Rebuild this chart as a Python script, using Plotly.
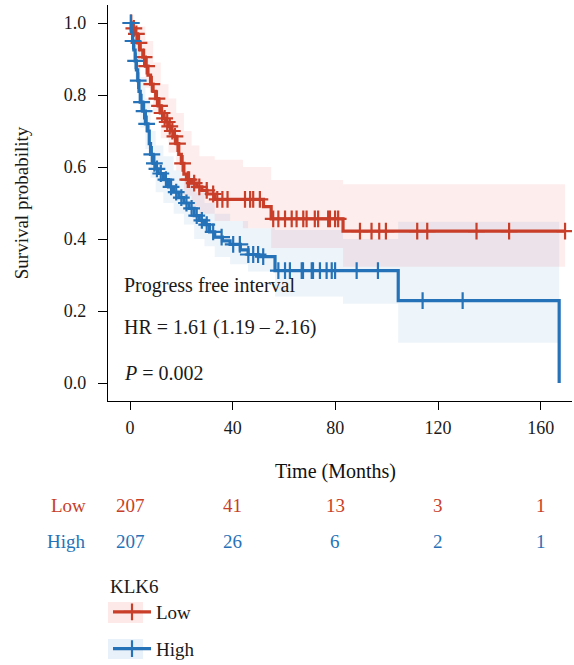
import numpy as np
import plotly.graph_objects as go

# ---------------- data ----------------
low_t = [0, 1, 2, 3, 4, 5, 6, 7, 8, 9, 10, 11, 12, 13, 14, 15, 16, 17, 18, 19, 20, 21, 22,
         24, 26, 28, 30, 33, 52, 55, 83, 169.5]
low_s = [1.0, 0.985, 0.97, 0.945, 0.925, 0.905, 0.88, 0.855, 0.83, 0.81, 0.79, 0.77, 0.75,
         0.735, 0.725, 0.713, 0.70, 0.685, 0.665, 0.635, 0.61, 0.58, 0.565, 0.555, 0.545,
         0.535, 0.525, 0.51, 0.49, 0.456, 0.422, 0.422]
low_cens = [0.5, 1.5, 2.5, 3.5, 5.5, 6.5, 8.5, 10.5, 11.5, 12.5, 13.5, 14.5, 15.5, 16.5,
            17.5, 18.5, 20.5, 22.5, 23, 25, 27, 29.9, 32.4, 34, 36, 38, 44.8, 46.8, 48,
            50.6, 55.8, 57.8, 60.4, 63, 64.9, 67.5, 68.8, 72, 73.3, 77.2, 77.9, 79.9, 81.1,
            89.6, 94.1, 97.1, 99.7, 111.9, 115.8, 135, 147.7, 169.5]

high_t = [0, 0.5, 1, 1.5, 2, 2.5, 3, 3.5, 4, 5, 6, 7, 7.5, 8, 9, 10, 11, 13, 15, 17, 19,
          21, 23, 25, 27, 29, 31, 33, 36, 39, 43, 46, 50, 56.5, 104.5, 167.2]
high_s = [1.0, 0.975, 0.95, 0.925, 0.895, 0.87, 0.84, 0.81, 0.78, 0.755, 0.72, 0.70, 0.665,
          0.635, 0.61, 0.595, 0.582, 0.565, 0.545, 0.53, 0.515, 0.50, 0.485, 0.465, 0.452,
          0.44, 0.42, 0.405, 0.395, 0.385, 0.37, 0.357, 0.351, 0.312, 0.229, 0.0]
high_cens = [0.3, 1.2, 2.2, 3.2, 4.5, 5.5, 6.5, 8.5, 9.5, 10.5, 12, 14, 16, 18, 20, 22, 24,
             26, 28, 29.9, 32.4, 35.7, 40.2, 42.8, 46.1, 48, 49.9, 51.9, 57.8, 60.4, 62.3,
             66.9, 67.4, 70.8, 71.3, 74, 76.6, 78.6, 79.9, 88.3, 96.6, 114, 129.6]

low_band_t = [0, 3, 6, 9, 12, 15, 18, 21, 24, 27, 33, 44, 55, 83, 169.5]
low_upper = [1.0, 0.99, 0.95, 0.89, 0.83, 0.79, 0.75, 0.70, 0.66, 0.63, 0.62, 0.60, 0.564, 0.552, 0.552]
low_lower = [1.0, 0.90, 0.82, 0.75, 0.68, 0.64, 0.59, 0.52, 0.49, 0.47, 0.45, 0.43, 0.375, 0.323, 0.323]

high_band_t = [0, 2, 4, 6, 8, 10, 13, 17, 21, 25, 29, 33, 39, 46, 56.5, 83, 104.5, 167.2]
high_upper = [1.0, 0.95, 0.85, 0.79, 0.70, 0.66, 0.63, 0.59, 0.56, 0.53, 0.50, 0.47, 0.45,
              0.43, 0.425, 0.40, 0.448, 0.448]
high_lower = [1.0, 0.84, 0.71, 0.65, 0.57, 0.53, 0.50, 0.47, 0.44, 0.40, 0.38, 0.35, 0.33,
              0.31, 0.24, 0.22, 0.112, 0.112]

risk_times = [0, 40, 80, 120, 160]
risk_low = [207, 41, 13, 3, 1]
risk_high = [207, 26, 6, 2, 1]
x_ticks = [0, 40, 80, 120, 160]
y_ticks = [0.0, 0.2, 0.4, 0.6, 0.8, 1.0]

RED = "rgb(200,62,40)"
BLUE = "rgb(38,114,184)"
RED_FILL = "rgba(235,110,100,0.12)"
BLUE_FILL = "rgba(80,150,210,0.10)"
FONT = "Liberation Serif"


def step_at(times, surv, q):
    idx = np.searchsorted(np.asarray(times), np.asarray(q), side="right") - 1
    return np.asarray(surv)[np.clip(idx, 0, len(surv) - 1)]


fig = go.Figure()

# confidence bands
for bt, up, lo, fc in [(low_band_t, low_upper, low_lower, RED_FILL),
                       (high_band_t, high_upper, high_lower, BLUE_FILL)]:
    fig.add_trace(go.Scatter(x=bt, y=up, mode="lines", line=dict(width=0, shape="hv"),
                             showlegend=False, hoverinfo="skip"))
    fig.add_trace(go.Scatter(x=bt, y=lo, mode="lines", line=dict(width=0, shape="hv"),
                             fill="tonexty", fillcolor=fc, showlegend=False, hoverinfo="skip"))

# curves + censor marks
for t, s, c, col in [(low_t, low_s, low_cens, RED), (high_t, high_s, high_cens, BLUE)]:
    fig.add_trace(go.Scatter(x=t, y=s, mode="lines", line=dict(color=col, width=3.2, shape="hv"),
                             showlegend=False))
    fig.add_trace(go.Scatter(x=c, y=step_at(t, s, c), mode="markers",
                             marker=dict(symbol="cross-thin", size=12, line=dict(color=col, width=2.2)),
                             showlegend=False))

# legend entries
for name, col in [("Low", RED), ("High", BLUE)]:
    fig.add_trace(go.Scatter(x=[None], y=[None], mode="lines+markers", name=name,
                             legendgroup=name,
                             line=dict(color=col, width=3.2),
                             marker=dict(symbol="cross-thin", size=12, line=dict(color=col, width=2.2))))

ANN = 20
annots = []
annots.append(dict(x=-3.1, y=0.272, xref="x", yref="y", text="Progress free interval",
                   showarrow=False, xanchor="left", yanchor="middle", font=dict(size=ANN)))
annots.append(dict(x=-3.1, y=0.153, xref="x", yref="y", text="HR = 1.61 (1.19 – 2.16)",
                   showarrow=False, xanchor="left", yanchor="middle", font=dict(size=ANN)))
annots.append(dict(x=-3.1, y=0.028, xref="x", yref="y", text="<i>P</i> = 0.002",
                   showarrow=False, xanchor="left", yanchor="middle", font=dict(size=ANN)))
annots.append(dict(x=80, y=-0.179, xref="x", yref="paper", text="Time (Months)",
                   showarrow=False, xanchor="center", yanchor="middle",
                   font=dict(color="#111", size=ANN)))
for rt, lv, hv in zip(risk_times, risk_low, risk_high):
    annots.append(dict(x=rt, y=-0.263, xref="x", yref="paper", text=str(lv), showarrow=False,
                       xanchor="center", yanchor="middle", font=dict(color=RED, size=19)))
    annots.append(dict(x=rt, y=-0.356, xref="x", yref="paper", text=str(hv), showarrow=False,
                       xanchor="center", yanchor="middle", font=dict(color=BLUE, size=19)))
annots.append(dict(x=-0.043, y=-0.263, xref="paper", yref="paper", text="Low", showarrow=False,
                   xanchor="right", yanchor="middle", font=dict(color=RED, size=19)))
annots.append(dict(x=-0.043, y=-0.356, xref="paper", yref="paper", text="High", showarrow=False,
                   xanchor="right", yanchor="middle", font=dict(color=BLUE, size=19)))

shapes = [
    dict(type="rect", xref="paper", yref="paper", x0=0.0, x1=0.0754, y0=-0.5606, y1=-0.5076,
         fillcolor="rgba(235,110,100,0.15)", line=dict(width=0), layer="below"),
    dict(type="rect", xref="paper", yref="paper", x0=0.0, x1=0.0754, y0=-0.6515, y1=-0.601,
         fillcolor="rgba(80,150,210,0.13)", line=dict(width=0), layer="below"),
]

fig.update_layout(
    width=574, height=665,
    margin=dict(l=108, r=2, t=5, b=264, autoexpand=False),
    paper_bgcolor="white", plot_bgcolor="white",
    font=dict(family=FONT, size=18, color="#1a1a1a"),
    annotations=annots,
    shapes=shapes,
    legend=dict(title=dict(text="KLK6", font=dict(size=19)), x=0.0, y=-0.4225,
                xanchor="left", yanchor="top", bgcolor="rgba(0,0,0,0)",
                tracegroupgap=9, font=dict(size=19), itemwidth=38),
    xaxis=dict(range=[-8.57, 172.2], tickvals=x_ticks, showgrid=False, zeroline=False,
               showline=True, linecolor="black", linewidth=1.3, ticks="outside", ticklen=8,
               tickwidth=1.3, tickcolor="black", ticklabelstandoff=2),
    yaxis=dict(range=[-0.05, 1.05], tickvals=y_ticks, tickformat=".1f", showgrid=False,
               zeroline=False, showline=True, linecolor="black", linewidth=1.3,
               ticks="outside", ticklen=9, tickwidth=1.3, tickcolor="black",
               ticklabelstandoff=8,
               title=dict(text="Survival probability", standoff=30, font=dict(size=19))),
)

fig.write_html("out.html")
